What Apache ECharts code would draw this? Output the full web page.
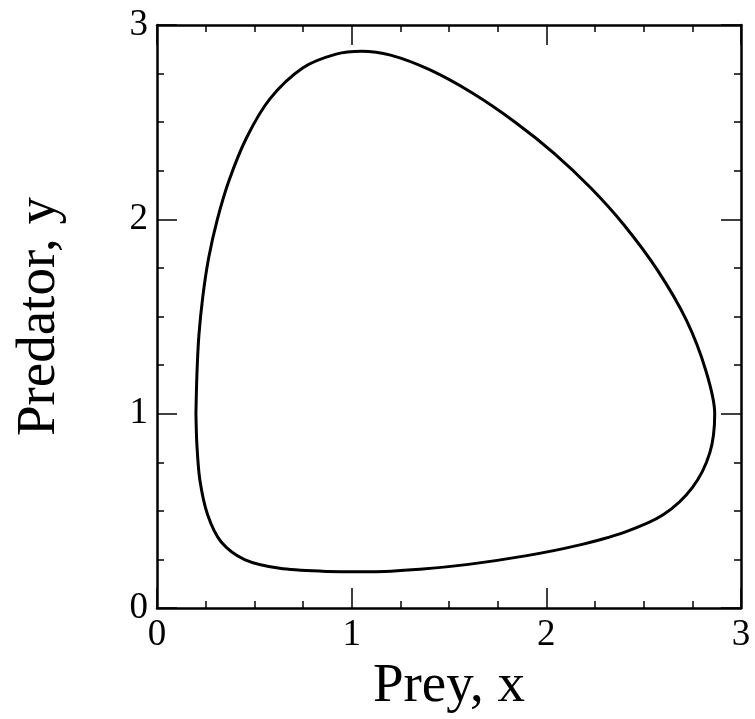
<!DOCTYPE html>
<html>
<head>
<meta charset="utf-8">
<script src="https://cdn.jsdelivr.net/npm/echarts@6/dist/echarts.min.js"></script>
<style>
  html, body { margin: 0; padding: 0; background: #fff; }
  #main { width: 755px; height: 719px; }
</style>
</head>
<body>
<div id="main"></div>
<script>
// points (prey x, predator y)
var preyX = [0.20, 0.205, 0.215, 0.235, 0.265, 0.31, 0.37, 0.46, 0.58, 0.75, 0.92, 1.05, 1.20, 1.40, 1.62, 1.84, 2.04, 2.23, 2.40, 2.57, 2.72, 2.82, 2.865, 2.84, 2.75, 2.60, 2.40, 2.15, 1.90, 1.60, 1.35, 1.10, 0.85, 0.63, 0.45, 0.33, 0.26, 0.22, 0.205, 0.20]
var predY = [1.00, 1.20, 1.40, 1.60, 1.80, 2.00, 2.20, 2.42, 2.62, 2.78, 2.85, 2.865, 2.845, 2.77, 2.65, 2.50, 2.34, 2.16, 1.97, 1.74, 1.48, 1.22, 1.00, 0.80, 0.62, 0.48, 0.39, 0.32, 0.27, 0.225, 0.20, 0.187, 0.19, 0.205, 0.25, 0.34, 0.48, 0.66, 0.84, 1.00]
var tickLabels = ['0', '1', '2', '3']

const myChart = echarts.init(document.getElementById('main'))

var orbit = preyX.map(function (x, i) { return [x, predY[i]] })

var font = '"Liberation Serif", "DejaVu Serif", serif'

function axisBase(extra) {
  return Object.assign({
    type: 'value',
    min: 0,
    max: 3,
    interval: 1,
    axisLine: { show: true, onZero: false, lineStyle: { color: '#000', width: 2.5 } },
    axisTick: { show: true, inside: true, length: 20, lineStyle: { color: '#000', width: 1.5 } },
    minorTick: { show: true, splitNumber: 4, length: 7, lineStyle: { color: '#000', width: 1.5 } },
    splitLine: { show: false },
    axisLabel: {
      fontFamily: font, fontSize: 37, color: '#000', margin: 9,
      formatter: function (v) { return tickLabels[Math.round(v)] }
    }
  }, extra)
}

var option = {
  animation: false,
  backgroundColor: '#fff',
  grid: { left: 157, right: 14, top: 25, bottom: 108 },
  xAxis: [
    axisBase({
      position: 'bottom',
      name: 'Prey, x',
      nameLocation: 'middle',
      nameGap: 42,
      nameTextStyle: { fontFamily: font, fontSize: 55, color: '#000' }
    }),
    axisBase({ position: 'top', axisLabel: { show: false } })
  ],
  yAxis: [
    axisBase({
      position: 'left',
      name: 'Predator, y',
      nameLocation: 'middle',
      nameGap: 90,
      nameTextStyle: { fontFamily: font, fontSize: 55, color: '#000' }
    }),
    axisBase({ position: 'right', axisLabel: { show: false } })
  ],
  series: [
    {
      type: 'line',
      data: orbit,
      smooth: 0.3,
      symbol: 'none',
      lineStyle: { color: '#000', width: 3 }
    }
  ]
}

myChart.setOption(option)
</script>
</body>
</html>
